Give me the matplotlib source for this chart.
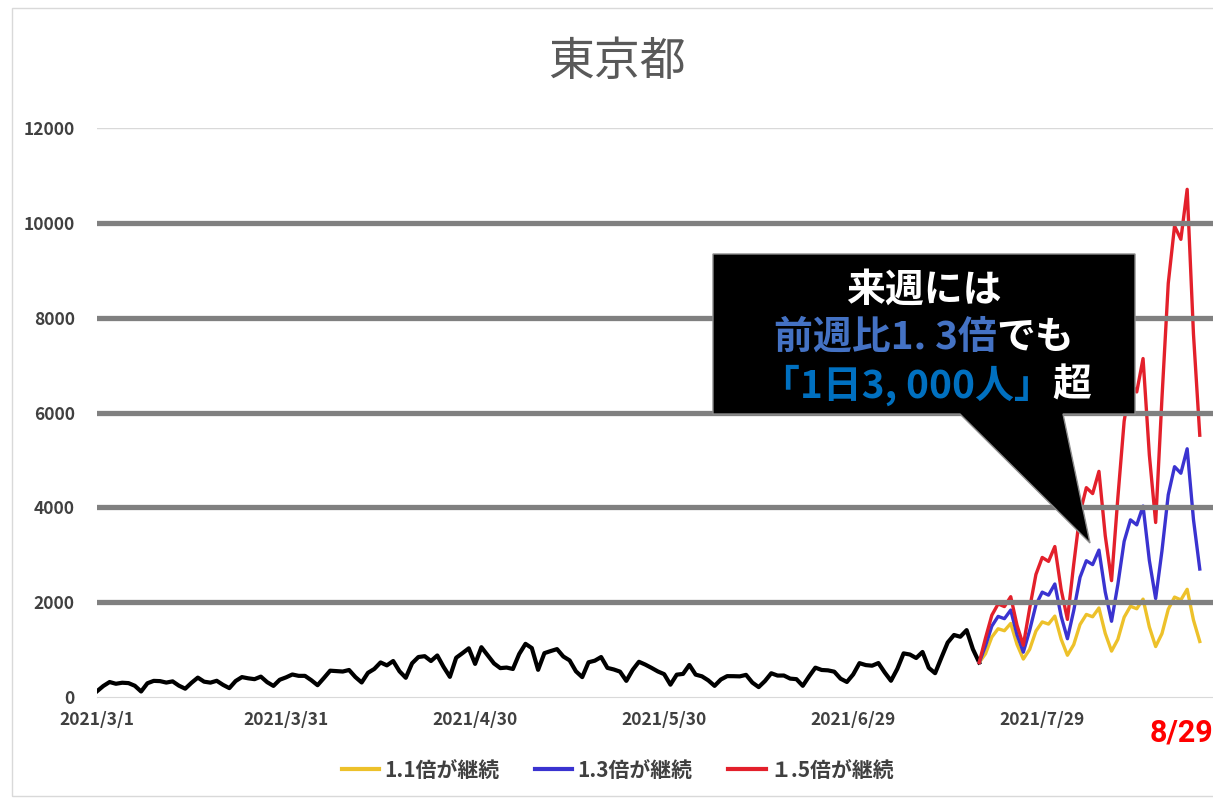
import matplotlib
matplotlib.use('Agg')
import matplotlib.pyplot as plt
import matplotlib.dates as mdates
from matplotlib.patches import Polygon, Rectangle
from matplotlib.lines import Line2D
import pandas as pd

plt.rcParams['font.family'] = ['Noto Sans CJK JP', 'DejaVu Sans']

# daily new cases, Tokyo, 2021/3/1 - 2021/7/19
actual = [121, 232, 316, 279, 301, 293, 237, 116, 290, 340, 335, 304, 330, 239,
          175, 300, 409, 323, 303, 342, 256, 187, 337, 420, 394, 376, 430, 313,
          234, 364, 414,
          475, 446, 446, 355, 249, 399, 555, 545, 537, 570, 421, 306, 510, 591,
          729, 667, 759, 543, 405, 711, 843, 861, 759, 876, 635, 425, 828, 925,
          1027, 698,
          1050, 879, 708, 609, 621, 591, 907, 1121, 1032, 573, 925, 969, 1010,
          854, 772, 542, 419, 732, 766, 843, 614, 581, 535, 340, 571, 743, 684,
          614, 539, 482, 260,
          471, 487, 676, 472, 436, 351, 235, 369, 440, 439, 435, 467, 304, 209,
          337, 501, 452, 453, 388, 376, 236, 435, 619, 570, 562, 534, 386, 317,
          476, 714,
          673, 660, 716, 518, 342, 593, 920, 896, 822, 950, 614, 502, 830, 1149,
          1308, 1271, 1410, 1008, 727]

# projections 2021/7/19 - 2021/8/23
proj_11 = [727, 913, 1264, 1439, 1398, 1551, 1109, 800, 1004, 1390, 1583, 1538,
           1706, 1220, 880, 1105, 1529, 1741, 1692, 1877, 1342, 968, 1215, 1682,
           1915, 1861, 2064, 1476, 1064, 1337, 1850, 2107, 2047, 2271, 1623, 1171]
proj_13 = [727, 1079, 1494, 1700, 1652, 1833, 1310, 945, 1403, 1942, 2211, 2148,
           2383, 1704, 1229, 1824, 2524, 2874, 2792, 3098, 2215, 1597, 2371, 3282,
           3736, 3630, 4027, 2879, 2076, 3082, 4266, 4857, 4719, 5235, 3743, 2699]
proj_15 = [727, 1245, 1724, 1962, 1907, 2115, 1512, 1091, 1868, 2585, 2943, 2860,
           3173, 2268, 1636, 2801, 3878, 4415, 4290, 4759, 3402, 2454, 4202, 5817,
           6622, 6434, 7138, 5103, 3680, 6303, 8725, 9933, 9652, 10707, 7655, 5521]

actual_dates = pd.date_range('2021-03-01', '2021-07-19')
proj_dates = pd.date_range('2021-07-19', '2021-08-23')

tick_dates = pd.to_datetime(['2021-03-01', '2021-03-31', '2021-04-30',
                             '2021-05-30', '2021-06-29', '2021-07-29'])
tick_labels = ['2021/3/1', '2021/3/31', '2021/4/30', '2021/5/30', '2021/6/29', '2021/7/29']
y_ticks = [0, 2000, 4000, 6000, 8000, 10000, 12000]
legend_labels = ['1.1倍が継続', '1.3倍が継続', '１.5倍が継続']
series_colors = ['#EDC12A', '#3A33D0', '#E3202B']

W, H = 1213, 798
fig = plt.figure(figsize=(W / 100, H / 100), dpi=100)


def fx(px):
    return px / W


def fy(py):
    return 1 - py / H


ax = fig.add_axes([fx(97), fy(697), fx(1213) - fx(97), fy(128) - fy(697)])

ax.plot(actual_dates, actual, color='black', lw=3, zorder=3)
for vals, c in zip([proj_11, proj_13, proj_15], series_colors):
    ax.plot(proj_dates, vals, color=c, lw=2.4, zorder=3)

x0 = mdates.date2num(pd.Timestamp('2021-03-01'))
ax.set_xlim(x0, x0 + 177.1)
ax.set_ylim(0, 12000)

# thick grey grid lines drawn over the chart
for y in y_ticks[1:-1]:
    ax.axhline(y, color='#808080', lw=3.8, zorder=4)
ax.axhline(12000, color='#D9D9D9', lw=1, zorder=1)

ax.set_yticks(y_ticks)
ax.set_yticklabels([str(v) for v in y_ticks])
ax.set_xticks(tick_dates)
ax.set_xticklabels(tick_labels)
ax.tick_params(length=0, labelsize=12.5, labelcolor='#404040')
ax.tick_params(axis='y', pad=16)
ax.tick_params(axis='x', pad=10)
for lab in ax.get_xticklabels() + ax.get_yticklabels():
    lab.set_fontweight('bold')

for s in ['top', 'right', 'left']:
    ax.spines[s].set_visible(False)
ax.spines['bottom'].set_color('#D9D9D9')
ax.patch.set_alpha(0)

fig.text(fx(617), fy(62), '東京都', ha='center', va='center', fontsize=33, color='#595959')

handles = [Line2D([], [], color=c, lw=3) for c in series_colors]
fig.legend(handles, legend_labels, loc='center', bbox_to_anchor=(fx(618), fy(770)),
           ncol=3, frameon=False, handlelength=1.8, handletextpad=0.25,
           columnspacing=1.7, prop={'size': 15, 'weight': 'bold'},
           labelcolor='#404040')

fig.text(fx(1150), fy(732), '8/29', ha='left', va='center', fontsize=22,
         fontweight='bold', color='#FF0000', family=['Roboto', 'DejaVu Sans'])

# chart frame
fig.add_artist(Rectangle((fx(12), 0.003), 1.0, fy(8) - 0.003, transform=fig.transFigure,
                         fill=False, edgecolor='#D9D9D9', lw=1))

# speech bubble
bubble = [(713, 254), (1135, 254), (1135, 414), (1063, 414), (1090, 543), (960, 414), (713, 414)]
fig.add_artist(Polygon([(fx(a), fy(b)) for a, b in bubble], closed=True,
                       transform=fig.transFigure, facecolor='black',
                       edgecolor='#8C8C8C', lw=1, zorder=5))

renderer = fig.canvas.get_renderer()


def colored_line(parts, cx, cy, size):
    texts = [fig.text(0, fy(cy), s, color=c, fontsize=size, fontweight='bold',
                      ha='left', va='center', zorder=10) for s, c in parts]
    widths = [t.get_window_extent(renderer).width for t in texts]
    x = cx - sum(widths) / 2
    for t, w in zip(texts, widths):
        t.set_x(fx(x))
        x += w


colored_line([('来週には', 'white')], 924, 290, 28)
colored_line([('前週比1. 3倍', '#4472C4'), ('でも', 'white')], 924, 337, 28)
colored_line([('「1日3, 000人」', '#0070C0'), ('超', 'white')], 926, 385, 28)

fig.savefig('out.png', dpi=100)
